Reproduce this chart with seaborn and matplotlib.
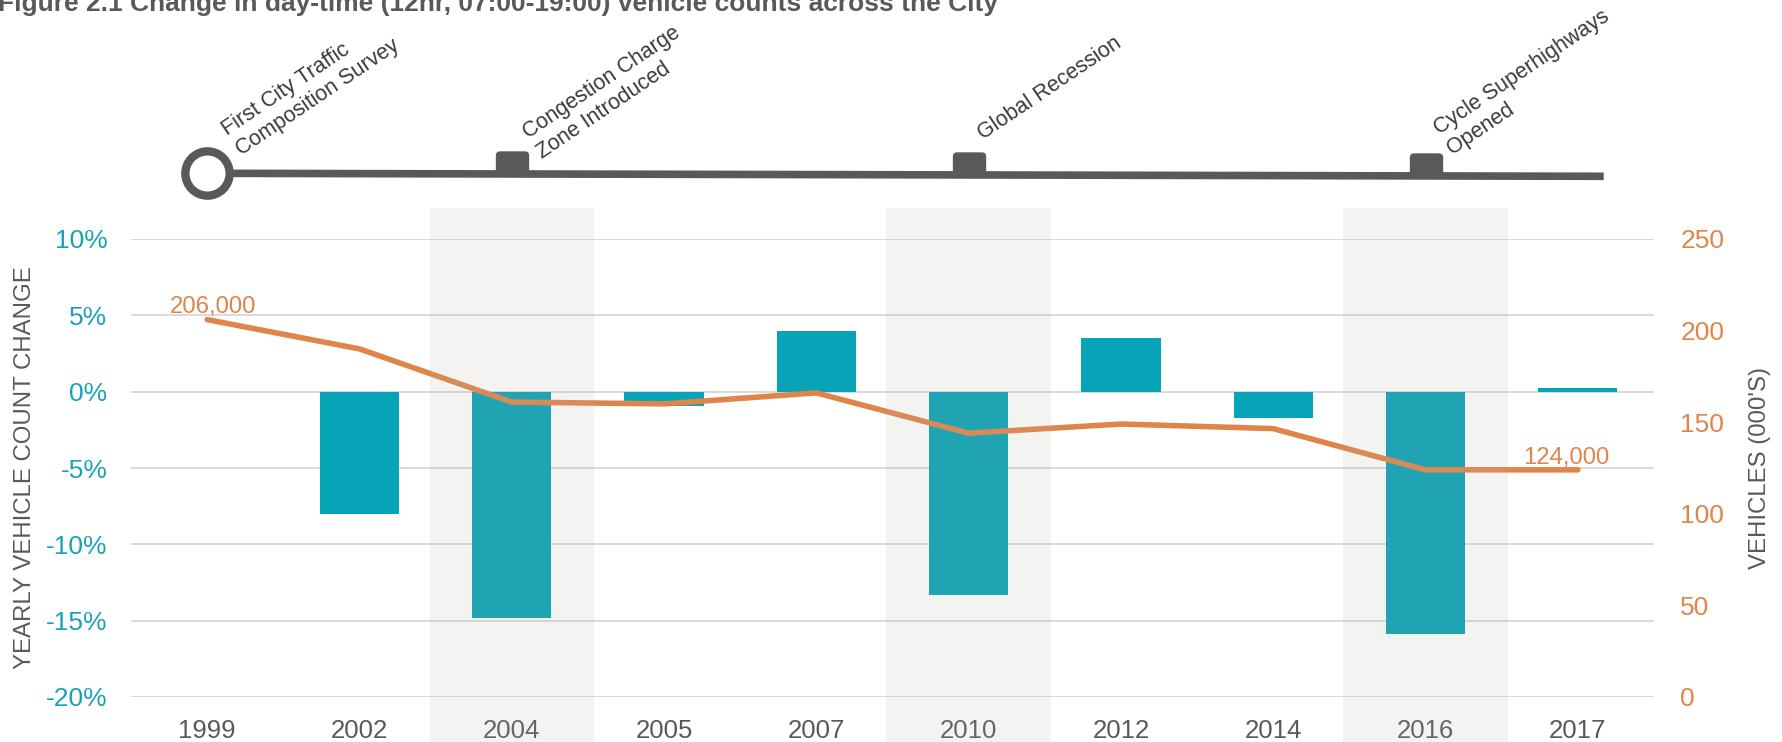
import numpy as np
import matplotlib
matplotlib.use("Agg")
import matplotlib.pyplot as plt
from matplotlib.patches import FancyBboxPatch
from matplotlib.ticker import FuncFormatter
import seaborn as sns

# ---------------- data ----------------
years = ["1999", "2002", "2004", "2005", "2007", "2010", "2012", "2014", "2016", "2017"]
pct_change = [0.0, -8.0, -14.85, -0.95, 4.0, -13.35, 3.5, -1.7, -15.85, 0.22]
vehicles_k = [206, 190, 161, 160, 166, 144, 149, 146.5, 124, 124]
shaded_years = ["2004", "2010", "2016"]
event_years = ["1999", "2004", "2010", "2016"]
event_labels = ["First City Traffic\nComposition Survey",
                "Congestion Charge\nZone Introduced",
                "Global Recession",
                "Cycle Superhighways\nOpened"]
left_ticks = [-20, -15, -10, -5, 0, 5, 10]
right_ticks = [0, 50, 100, 150, 200, 250]
title = "Figure 2.1 Change in day-time (12hr, 07:00-19:00) vehicle counts across the City"

# ---------------- style ----------------
sns.set_theme(style="white")
plt.rcParams["font.family"] = ["Liberation Sans", "DejaVu Sans"]

BAR = "#07A3B6"
LINE = "#E0854A"
LEFT_TXT = "#19A2B6"
RIGHT_TXT = "#E0854A"
GREY = "#595959"
GRID = "#D9D9D9"

W, H = 1782, 742
fig = plt.figure(figsize=(W / 100, H / 100), dpi=100)
ax_l, ax_r, ax_t, ax_b = 131, 1654, 239, 697
ax = fig.add_axes([ax_l / W, 1 - ax_b / H, (ax_r - ax_l) / W, (ax_b - ax_t) / H])

pos = np.arange(len(years))

# bars
sns.barplot(x=years, y=pct_change, color=BAR, saturation=1, width=0.52,
            edgecolor="none", ax=ax, zorder=2)
ax.set_xlim(-0.5, len(years) - 0.5)
ax.set_ylim(-20, 10)
ax.set_yticks(left_ticks)
ax.yaxis.set_major_formatter(FuncFormatter(lambda v, p: f"{int(v)}%"))
ax.yaxis.grid(True, color=GRID, lw=1.4)
ax.xaxis.grid(False)
ax.set_axisbelow(True)
for s in ax.spines.values():
    s.set_visible(False)
ax.tick_params(axis="y", length=0, pad=17, labelsize=19, labelcolor=LEFT_TXT)
ax.tick_params(axis="x", length=0, pad=16, labelsize=18.5, labelcolor=GREY)
ax.set_xlabel("")
ax.set_ylabel("YEARLY VEHICLE COUNT CHANGE", fontsize=17.3, color=GREY, va="center")
ax.yaxis.set_label_coords((25 - ax_l) / (ax_r - ax_l), (ax_b - 468) / (ax_b - ax_t))

# line on secondary axis
ax2 = ax.twinx()
sns.lineplot(x=pos, y=vehicles_k, color=LINE, lw=4.0, ax=ax2, zorder=3)
for l in ax2.get_lines():
    l.set_solid_capstyle("round")
ax2.set_ylim(0, 250)
ax2.set_yticks(right_ticks)
ax2.grid(False)
for s in ax2.spines.values():
    s.set_visible(False)
ax2.tick_params(axis="y", length=0, pad=19, labelsize=19, labelcolor=RIGHT_TXT)
ax2.set_ylabel("VEHICLES (000'S)", fontsize=17.3, color=GREY, va="center")
ax2.yaxis.set_label_coords((1760 - ax_l) / (ax_r - ax_l), (ax_b - 468) / (ax_b - ax_t))
ax2.set_xlim(-0.5, len(years) - 0.5)

# end labels
ax2.annotate(f"{vehicles_k[0] * 1000:,.0f}", xy=(pos[0], vehicles_k[0]), xytext=(4, 5),
             textcoords="offset points", ha="center", va="baseline",
             fontsize=17.2, color=LINE)
ax2.annotate(f"{vehicles_k[-1] * 1000:,.0f}", xy=(pos[-1], vehicles_k[-1]), xytext=(-8, 4),
             textcoords="offset points", ha="center", va="baseline",
             fontsize=17.2, color=LINE)

# shaded bands (overlay)
band_top = 1 + (ax_t - 208) / (ax_b - ax_t)
band_bot = -(H - ax_b) / (ax_b - ax_t)
for yname in shaded_years:
    i = years.index(yname)
    ax2.axvspan(i - 0.54, i + 0.54, ymin=band_bot, ymax=band_top, color="#B0B0A8",
                alpha=0.15, lw=0, zorder=5, clip_on=False)

# ---------------- timeline ----------------
axt = fig.add_axes([ax_l / W, 1 - ax_t / H, (ax_r - ax_l) / W, ax_t / H])
axt.set_xlim(-0.5, len(years) - 0.5)
axt.set_ylim(ax_t, 0)
axt.axis("off")
tl_y0, tl_y1 = 173.3, 176.3
tl_end = len(years) - 0.83
axt.plot([0, tl_end], [tl_y0, tl_y1], color=GREY, lw=5.5, solid_capstyle="butt", zorder=2)


def tl_y(x):
    return tl_y0 + (tl_y1 - tl_y0) * x / tl_end


# label offsets (points) of the last line's baseline start from the timeline point
label_offsets = [(23, 14.4), (20.5, 13), (10, 25.2), (18, 17.3)]
rr = FancyBboxPatch((-16, -11.5), 32, 23, boxstyle="round,pad=0,rounding_size=3.5").get_path()
for k, (yname, label) in enumerate(zip(event_years, event_labels)):
    i = years.index(yname)
    if k == 0:
        axt.plot([i], [tl_y(i)], marker="o", ms=31.9, mfc="white", mec=GREY, mew=6,
                 zorder=4, clip_on=False)
    else:
        axt.plot([i], [tl_y(i) - 11], marker=rr, ms=23, color=GREY, lw=0,
                 zorder=3, clip_on=False)
    axt.annotate(label, xy=(i, tl_y(i)), xytext=label_offsets[k], textcoords="offset points",
                 rotation=34, rotation_mode="anchor", ha="left", va="baseline",
                 multialignment="left", fontsize=15.5, color="#3A3A3A")

# title (partially cut at top as in the reference)
fig.text(-0.001, 1 - 11 / H, title, fontsize=19, fontweight="bold", color=GREY,
         ha="left", va="baseline")

fig.savefig("out.png", dpi=100)
